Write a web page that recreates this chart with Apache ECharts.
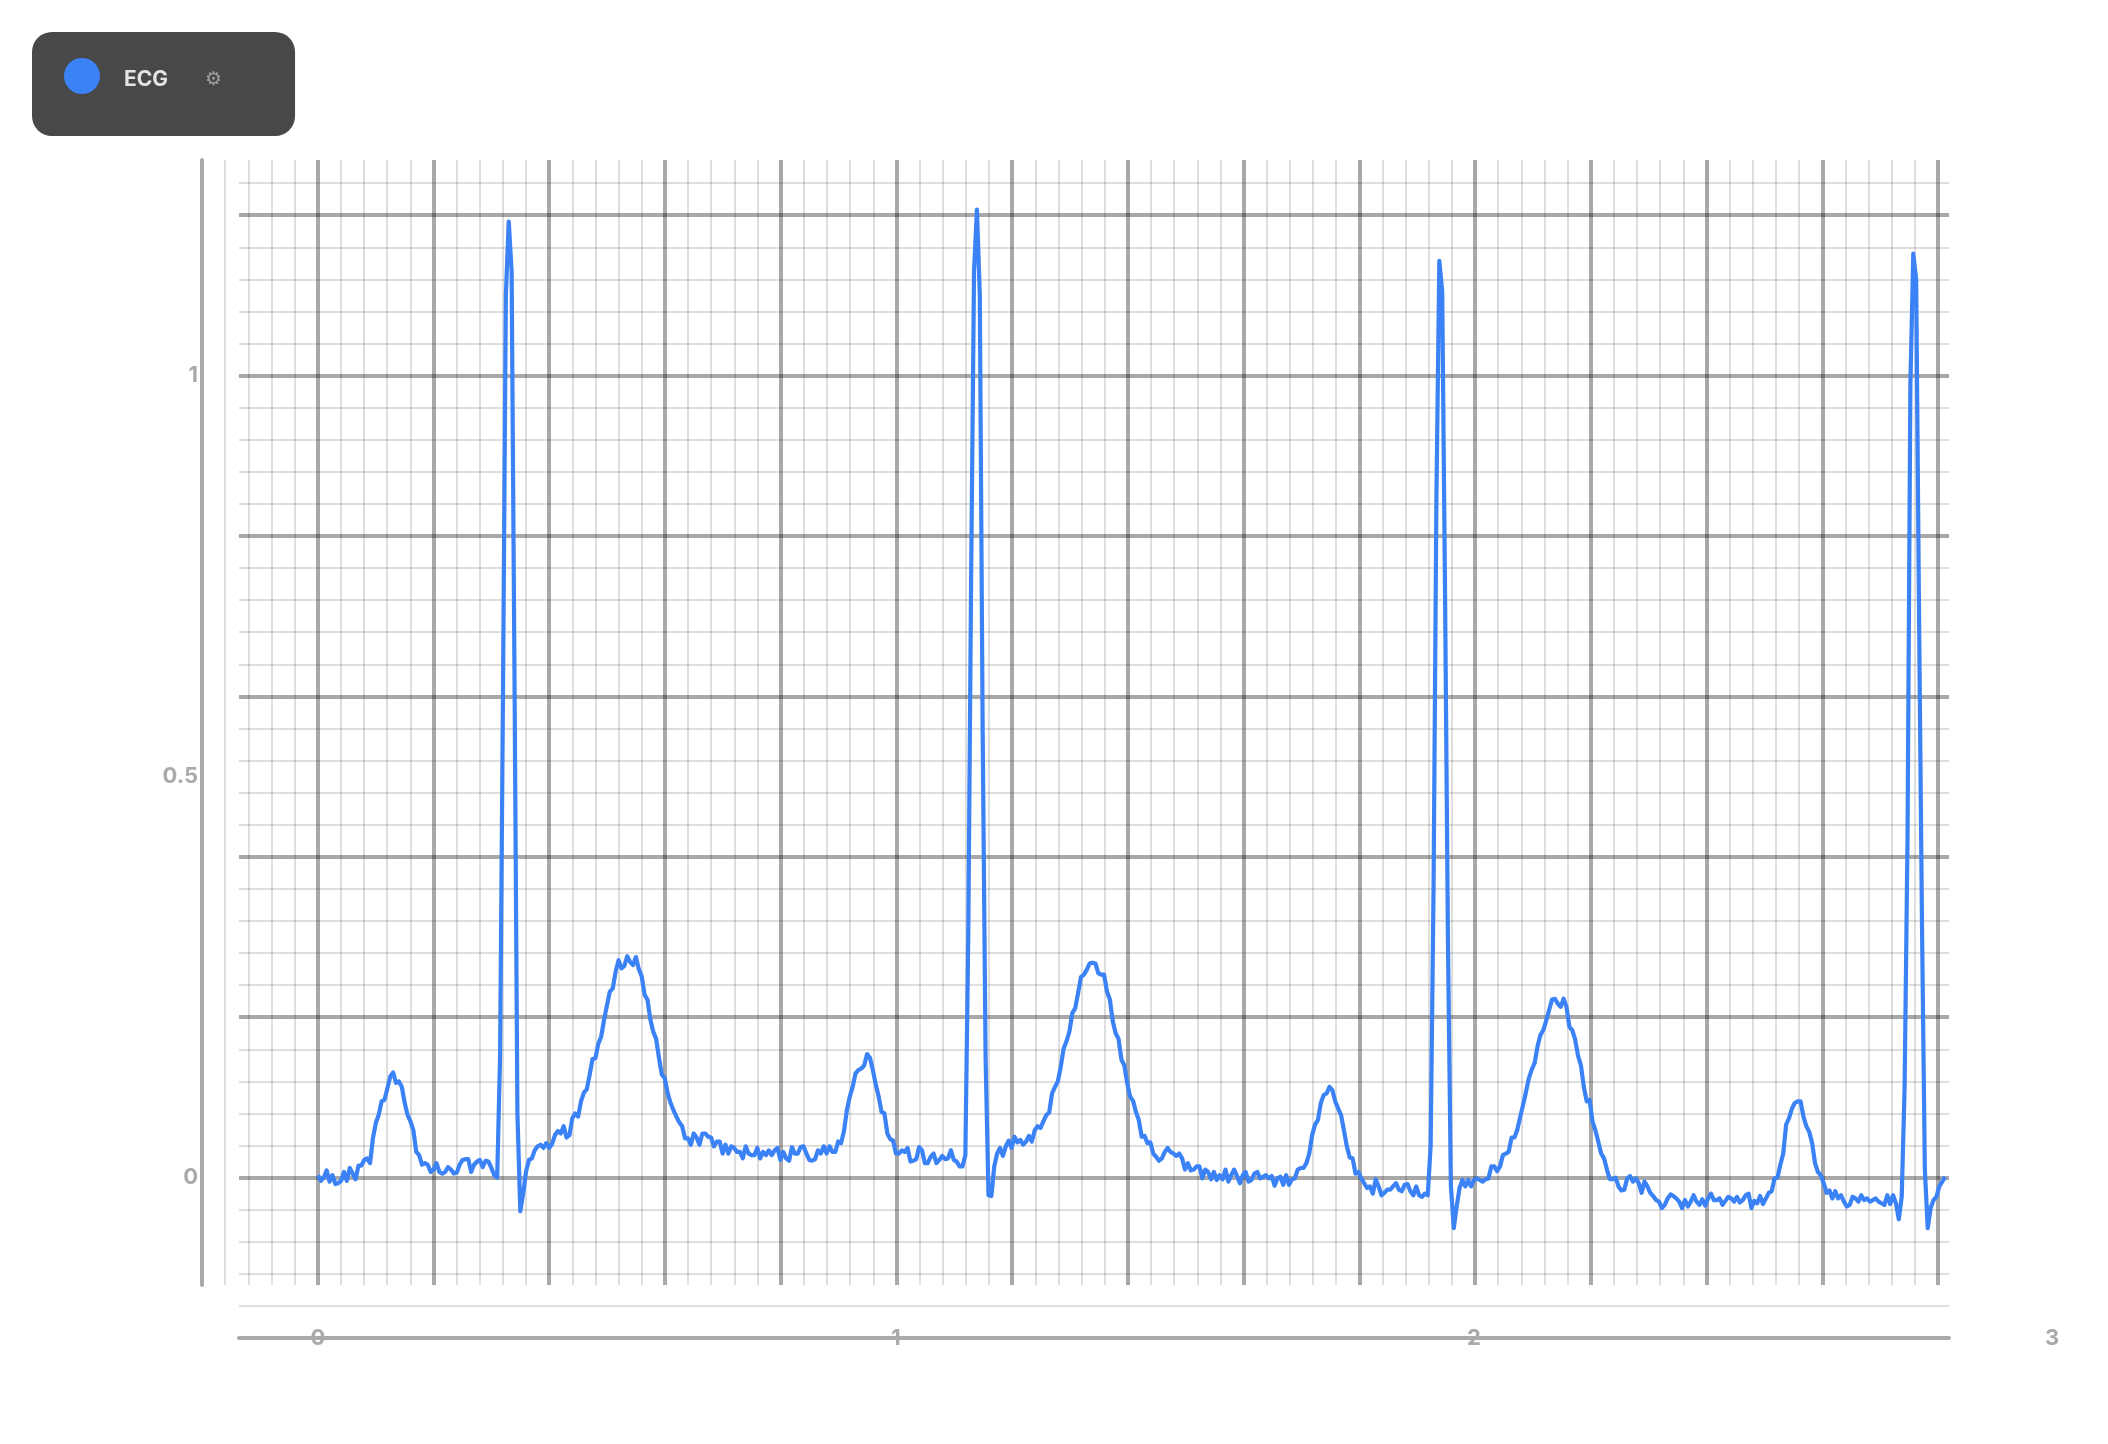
<!DOCTYPE html>
<html>
<head>
<meta charset="utf-8">
<style>html,body{margin:0;padding:0;background:#fff}#c{width:2108px;height:1444px}</style>
<script src="https://cdn.jsdelivr.net/npm/echarts@6/dist/echarts.min.js"></script>
</head>
<body>
<div id="c"></div>
<script>
const seriesName = 'ECG';
const gearGlyph = '\u2699';
const sampleStepSeconds = 0.005;
const xTickValues = [0, 1, 2, 3];
const yTickValues = [0, 0.5, 1];
const beat1 = [.003,-.004,0,.009,-.005,.003,-.008,-.007,-.004,.007,-.004,.012,.005,-.002,.015,.015,.022,.024,.018,.049,.068,.078,.095,.097,.111,.126,.131,.118,.12,.113,.093,.078,.07,.059,.032,.028,.016,.018,.016,.007,.01,.018,.007,.005,.007,.013,.01,.005,.006,.016,.022,.023,.023,.007,.016,.02,.022,.013,.021,.02,.012,.003,0,.15,.6,1.1,1.192,1.13,.62,.08,-.042,-.02,.008,.022];
const beat1Tail = [.024,.034,.039,.041,.037,.043,.037,.042,.053,.058,.055,.064,.05,.053,.074,.08,.076,.095,.106,.11,.128,.148,.149,.167,.176,.197,.215,.232,.236,.257,.271,.261,.264,.276,.269,.265,.275,.26,.251,.228,.222,.197,.182,.173,.149,.128,.124,.105,.093,.084,.076,.069,.064,.049,.049,.041,.055,.05,.041,.055,.055,.051,.05,.039,.045,.045,.03,.041,.03,.039,.037,.032,.032,.024,.039,.03,.028,.028,.037,.024,.032,.028,.034,.028,.034,.037,.022,.032,.024,.021,.038,.03,.03,.038,.039,.03,.022,.021,.023,.034,.03,.039,.03,.039,.032,.032,.045,.043,.058,.084,.101,.113,.13,.134,.136,.14,.154,.149,.134,.116,.101,.082,.08,.055,.048,.046,.03];
const beat2 = [.03,.034,.032,.037,.02,.021,.023,.038,.034,.018,.018,.026,.03,.018,.022,.027,.023,.024,.034,.022,.02,.014,.014,.028,.3,.75,1.13,1.207,1.1,.55,.15,-.022,-.023,.014,.03,.037,.027,.039,.046,.037,.051,.044,.047,.041,.045,.052,.045,.059,.064,.062,.07,.078,.081,.105,.113,.12,.138,.161,.17,.182,.205,.211,.23,.25,.253,.259,.267,.268,.267,.255,.253,.253,.232,.222,.195,.18,.173,.147,.14,.118,.101,.096,.082,.072,.051,.052,.043,.044,.03,.026,.021,.024,.032,.037,.032,.03,.027,.03,.024,.01];
const beat2Tail = [.018,.009,.01,.014,.014,-.001,.01,.007,-.002,.007,-.003,.003,-.002,.01,-.005,.003,.01,.002,-.007,.003,.007,-.005,-.003,.005,.007,-.001,.001,.003,-.001,.002,-.01,-.001,.001,-.009,.003,-.009,-.002,-.001,.01,.012,.012,.018,.03,.053,.066,.072,.093,.103,.105,.113,.109,.095,.086,.078,.059,.039,.025,.024,.005,.007,-.001,-.007,-.013,-.011,-.02,-.002,-.011,-.022,-.019,-.015];
const beat3 = [-.015,-.011,-.007,-.015,-.017,-.009,-.008,-.017,-.022,-.011,-.022,-.024,-.02,-.022,.04,.36,.85,1.143,1.105,.72,.29,-.01,-.063,-.036,-.013,-.003,-.011,-.003,-.011,-.003];
const beat3Tail = [-.001,-.003,-.005,-.002,-.001,.014,.014,.008,.014,.028,.03,.032,.05,.05,.06,.076,.091,.107,.124,.135,.143,.164,.178,.184,.196,.209,.222,.223,.217,.213,.223,.213,.188,.184,.172,.152,.14,.113,.095,.097,.07,.059,.045,.03,.024,.01,-.002,-.002,0,-.011];
const flatSegment = [-.016,-.015,-.001,.002,-.005,-.001,-.007,-.019,-.005,-.011,-.019,-.023,-.028,-.03,-.038,-.034,-.026,-.021,-.023,-.026,-.03,-.038,-.028,-.036,-.03,-.022,-.03,-.034,-.027,-.035,-.026,-.02,-.028,-.028,-.026,-.034,-.029,-.024,-.026,-.03,-.024,-.031,-.028,-.022,-.02,-.038,-.029,-.032,-.023,-.033];
const lastWave = [-.026,-.019,-.017,-.001,0,.016,.03,.066,.074,.086,.093,.095,.095,.076,.064,.057,.043,.018,.007,.003,-.007,-.019,-.016,-.026,-.017,-.026,-.022,-.03,-.036,-.034,-.024,-.026,-.03,-.022,-.028,-.026,-.03,-.028,-.026,-.03,-.032,-.034,-.022,-.033,-.022,-.032,-.052];
const beat4 = [-.024,.113,.42,.99,1.152,1.12,.7,.32,.01,-.063,-.038,-.028,-.024,-.011,-.005,.001];
const ecgValues = [].concat(beat1, beat1Tail, beat2, beat2Tail, beat3, beat3Tail, flatSegment, lastWave, beat4);
const ecgPoints = ecgValues.map((v, i) => [+(i * sampleStepSeconds).toFixed(3), v]);

const majorColor = 'rgba(0,0,0,0.34)';
const minorColor = 'rgba(0,0,0,0.13)';
const axisColor = '#aaaaaa';
const labelFont = {color: axisColor, fontFamily: 'Inter', fontWeight: 700, fontSize: 22};
const none = {show: false};
const hidden = {axisLine: none, axisTick: none, axisLabel: none, splitLine: none, minorSplitLine: none, minorTick: none};

const chart = echarts.init(document.getElementById('c'), null, {renderer: 'canvas', width: 2108, height: 1444});
chart.setOption({
  animation: false,
  backgroundColor: '#fff',
  legend: {
    show: true, left: 32, top: 32, orient: 'horizontal', selectedMode: false,
    padding: [26, 127, 42, 32],
    backgroundColor: '#484848', borderRadius: 20,
    icon: 'circle', itemWidth: 36, itemHeight: 36,
    data: [seriesName],
    formatter: name => '{a|' + name + '}',
    textStyle: {
      color: '#e4e4e4',
      rich: {a: {color: '#e4e4e4', fontFamily: 'Inter', fontWeight: 700, fontSize: 21, padding: [8, 0, 0, 19]}}
    }
  },
  graphic: [{
    type: 'text', left: 205, top: 71, z: 100,
    style: {text: gearGlyph, fill: '#a0a0a0', font: '19px "DejaVu Sans"'}
  }],
  grid: [
    {left: 202, top: 160, width: 1736, height: 1125},
    {left: 239, top: 183.1, width: 1710, height: 1154.9},
    {left: 318, top: 375.6, width: 1734, height: 802}
  ],
  xAxis: [
    Object.assign({}, hidden, {
      type: 'value', gridIndex: 0, min: -0.2, max: 2.8, interval: 0.2,
      splitLine: {show: true, showMinLine: false, lineStyle: {color: majorColor, width: 4}},
      minorTick: {show: false, splitNumber: 5},
      minorSplitLine: {show: true, lineStyle: {color: minorColor, width: 2}}
    }),
    Object.assign({}, hidden, {
      type: 'value', gridIndex: 1, min: 0, max: 1, position: 'bottom',
      axisLine: {show: true, onZero: false, lineStyle: {color: axisColor, width: 4}}
    }),
    Object.assign({}, hidden, {
      type: 'value', gridIndex: 2, min: xTickValues[0], max: xTickValues[3], interval: 1,
      position: 'bottom', offset: 160.4,
      axisLabel: Object.assign({show: true, margin: 0, verticalAlign: 'middle'}, labelFont)
    })
  ],
  yAxis: [
    Object.assign({}, hidden, {
      type: 'value', gridIndex: 0, min: 0, max: 1, position: 'left',
      axisLine: {show: true, onZero: false, lineStyle: {color: axisColor, width: 4}}
    }),
    Object.assign({}, hidden, {
      type: 'value', gridIndex: 1, min: -0.2, max: 1.24, interval: 0.04, position: 'left',
      splitLine: {show: true, showMinLine: false, lineStyle: {
        color: [minorColor, minorColor, minorColor, minorColor, 'rgba(0,0,0,0)'], width: 2}}
    }),
    Object.assign({}, hidden, {
      type: 'value', gridIndex: 1, min: -0.2, max: 1.24, interval: 0.2, position: 'left',
      splitLine: {show: true, showMinLine: false, showMaxLine: false, lineStyle: {color: majorColor, width: 4}}
    }),
    Object.assign({}, hidden, {
      type: 'value', gridIndex: 2, min: yTickValues[0], max: yTickValues[2], interval: 0.5,
      position: 'left', offset: 120,
      axisLabel: Object.assign({show: true, margin: 0, align: 'right', verticalAlign: 'middle'}, labelFont)
    })
  ],
  series: [{
    name: seriesName, type: 'line', xAxisIndex: 2, yAxisIndex: 3,
    data: ecgPoints, showSymbol: false, symbol: 'none', smooth: false, clip: false, z: 10,
    itemStyle: {color: '#3b82f6'},
    lineStyle: {color: '#3b82f6', width: 4.2, join: 'round'}
  }]
});
</script>
</body>
</html>
